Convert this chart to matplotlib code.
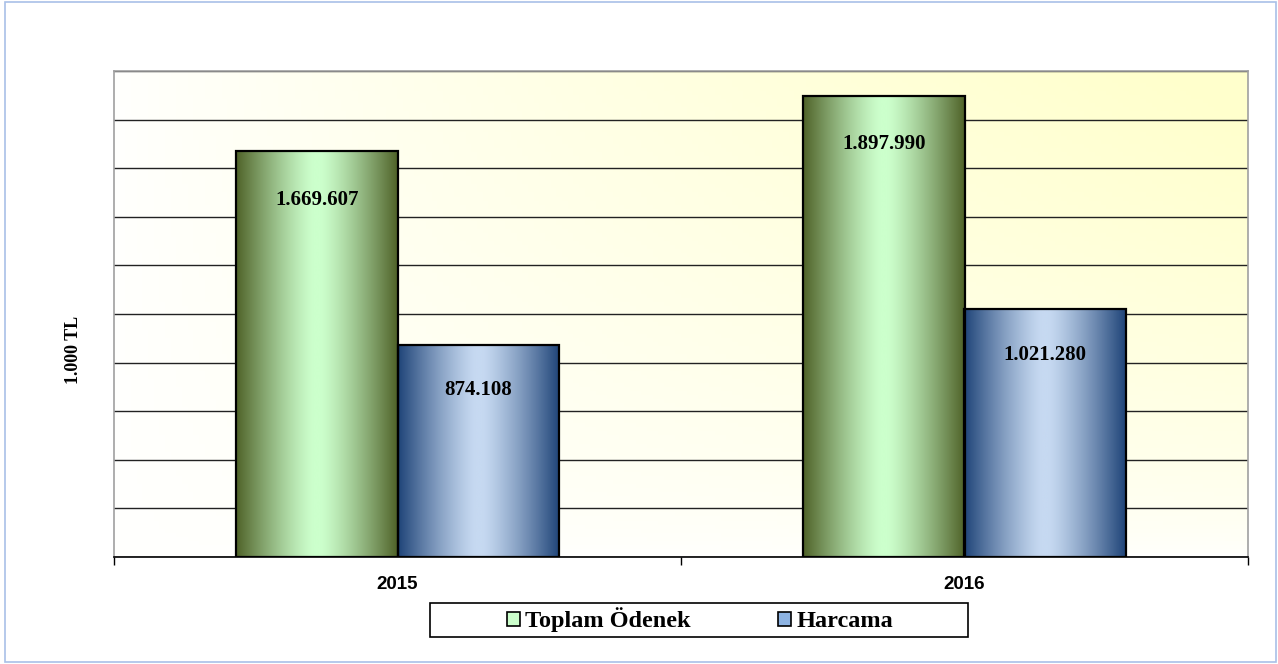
import numpy as np
import matplotlib
matplotlib.use("Agg")
import matplotlib.pyplot as plt
from matplotlib.patches import Patch, Rectangle
from matplotlib.colors import to_rgb

# data (1.000 TL)
years = ["2015", "2016"]
toplam_odenek = [1669607, 1897990]
harcama = [874108, 1021280]
value_labels_odenek = ["1.669.607", "1.897.990"]
value_labels_harcama = ["874.108", "1.021.280"]
series_names = ["Toplam Ödenek", "Harcama"]

green_dark, green_light = "#4f6228", "#ccffcc"
blue_dark, blue_light = "#1f4478", "#c6d9f1"

serif = ["Liberation Serif", "DejaVu Serif"]
sans = ["Liberation Sans", "DejaVu Sans"]


def hgrad(dark, light, n=256):
    d = np.array(to_rgb(dark))
    l = np.array(to_rgb(light))
    s = np.abs(np.linspace(-1, 1, n))
    t = np.clip((s - 0.05) / 0.95, 0, 1) ** 1.25
    cols = l[None, :] + (d - l)[None, :] * t[:, None]
    return cols[None, :, :]


fig = plt.figure(figsize=(12.78, 6.64), dpi=100)
ax = fig.add_axes([114 / 1278, 1 - 557 / 664, (1248 - 114) / 1278, (557 - 71) / 664])

# background of plot area: white bottom-left to light yellow top-right
gx, gy = np.meshgrid(np.linspace(0, 1, 200), np.linspace(1, 0, 120))
f = np.clip(gx ** 0.8 * gy ** 0.6 * 1.05, 0, 1)
white = np.array([1.0, 1.0, 0.995])
yellow = np.array(to_rgb("#ffffcc"))
bg = white[None, None, :] + (yellow - white)[None, None, :] * f[:, :, None]
ax.imshow(bg, extent=[0, 1, 0, 1], transform=ax.transAxes, aspect="auto", zorder=0)

x = np.arange(len(years))
w = 0.284
ax.set_xlim(-0.5, len(years) - 0.5)
ax.set_ylim(0, 2000000)

for i in range(len(years)):
    for vals, off, dark, light in [(toplam_odenek, -w / 2, green_dark, green_light),
                                   (harcama, w / 2, blue_dark, blue_light)]:
        bars = ax.bar(x[i] + off, vals[i], width=w, facecolor="none",
                      edgecolor="black", linewidth=1.6, zorder=4)
        b = bars[0]
        im = ax.imshow(hgrad(dark, light), aspect="auto", zorder=3,
                       extent=[b.get_x(), b.get_x() + w, 0, vals[i]])
        im.set_clip_path(b)

for i in range(len(years)):
    ax.annotate(value_labels_odenek[i], (x[i] - w / 2, toplam_odenek[i]),
                xytext=(0, -35), textcoords="offset points", ha="center", va="center",
                fontsize=15, fontweight="bold", family=serif, zorder=5)
    ax.annotate(value_labels_harcama[i], (x[i] + w / 2, harcama[i]),
                xytext=(0, -33), textcoords="offset points", ha="center", va="center",
                fontsize=15, fontweight="bold", family=serif, zorder=5)

# gridlines
ax.set_yticks(np.arange(0, 2000001, 200000))
ax.set_yticklabels([])
ax.tick_params(axis="y", length=0)
ax.yaxis.grid(True, color="#222222", linewidth=1.0, zorder=1)
ax.set_axisbelow(True)

ax.set_xticks(x)
ax.set_xticklabels(years, fontsize=13.5, fontweight="bold", family=sans)
ax.tick_params(axis="x", length=0, pad=14)
ax.set_xticks(np.arange(-0.5, len(years), 1), minor=True)
ax.tick_params(axis="x", which="minor", length=6, width=1, color="black", direction="out")

for s in ["left", "top", "right"]:
    ax.spines[s].set_color("#a0a0a0")
    ax.spines[s].set_linewidth(1.2)
ax.spines["bottom"].set_color("black")
ax.spines["bottom"].set_linewidth(1.2)

fig.text(74 / 1278, 1 - 350 / 664, "1.000 TL", rotation=90, ha="center", va="center",
         fontsize=13, fontweight="bold", family=serif)

# legend
handles = [Patch(facecolor=green_light, edgecolor="black", linewidth=1.2),
           Patch(facecolor="#8db3e2", edgecolor="black", linewidth=1.2)]
fig.legend(handles, series_names, loc="center", bbox_to_anchor=(700 / 1278, 1 - 620 / 664),
           ncol=2, frameon=False, prop={"family": serif, "weight": "bold", "size": 17.5},
           handlelength=0.55, handleheight=0.55, handletextpad=0.2, columnspacing=3.6)
fig.patches.append(Rectangle((430 / 1278, 1 - 637 / 664), 538 / 1278, 34 / 664,
                             transform=fig.transFigure, fill=False, edgecolor="black",
                             linewidth=1.2))

# outer chart border
fig.patches.append(Rectangle((5 / 1278, 2 / 664), 1271 / 1278, 660 / 664,
                             transform=fig.transFigure, fill=False, edgecolor="#a9c0e8",
                             linewidth=1.2))

fig.savefig("out.png", dpi=100)
